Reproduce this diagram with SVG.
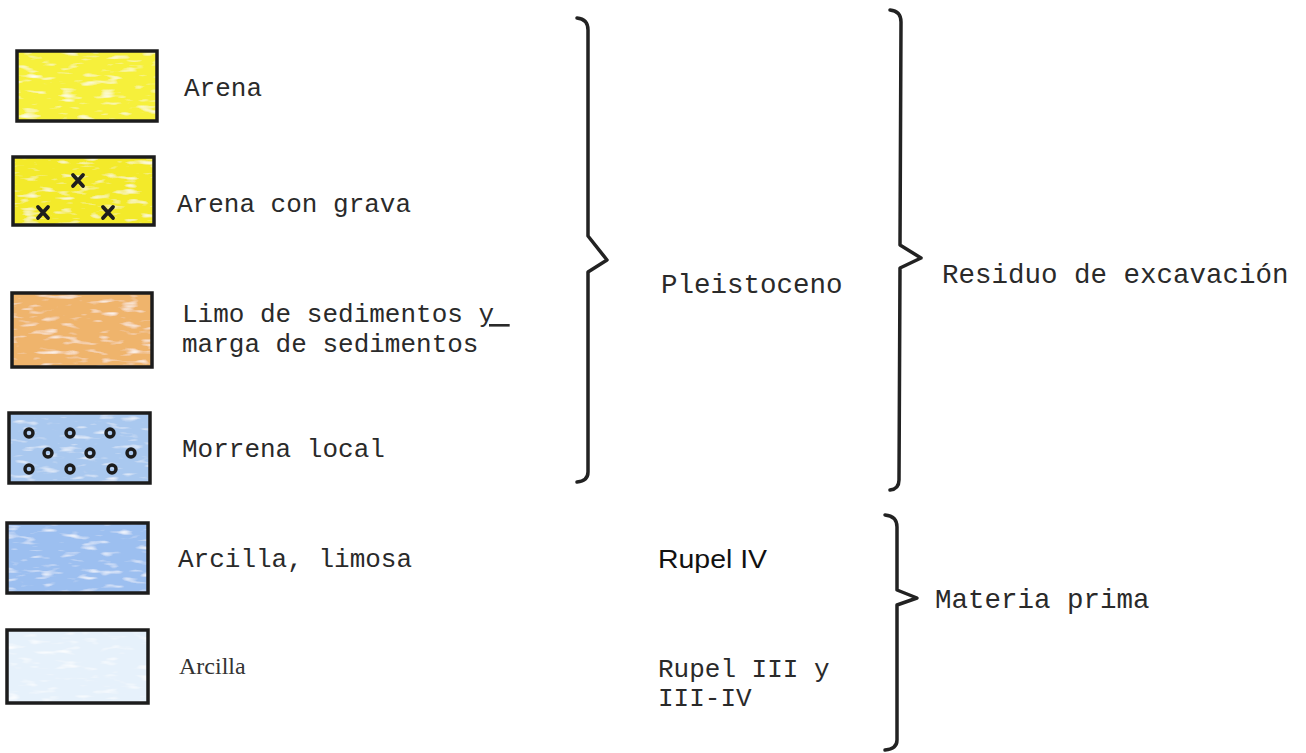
<svg xmlns="http://www.w3.org/2000/svg" width="1306" height="753" viewBox="0 0 1306 753">
<style>
.box{fill:none;stroke:#1c1c1c;stroke-width:3.5}
.mono{font-family:"Liberation Mono","Courier New",monospace;font-size:26px;fill:#2a2a2a}
.big{font-size:27.5px}
.serif{font-family:"Liberation Serif","Times New Roman",serif;font-size:24px;fill:#333}
.sans{font-family:"Liberation Sans",Arial,sans-serif;font-size:25px;fill:#111}
.brace{fill:none;stroke:#222;stroke-width:3.5;stroke-linecap:round;stroke-linejoin:round}
.x{stroke:#1e1e1e;stroke-width:3.8;stroke-linecap:round}
.pebble{fill:none;stroke:#1c1c1c;stroke-width:3.4}
</style>
<defs>
<filter id="pencil" x="0" y="0" width="100%" height="100%">
<feTurbulence type="fractalNoise" baseFrequency="0.05 0.2" numOctaves="2" seed="4" result="n"/>
<feColorMatrix in="n" type="matrix" values="0 0 0 0 1 0 0 0 0 1 0 0 0 0 1 2.6 0 0 0 -1.45" result="w"/>
<feComposite in="w" in2="SourceGraphic" operator="in" result="wc"/>
<feMerge><feMergeNode in="SourceGraphic"/><feMergeNode in="wc"/></feMerge>
</filter>
</defs>
<rect width="1306" height="753" fill="#ffffff"/>

<g id="arena">
<rect x="17" y="51" width="140" height="70" fill="#f6f03a" filter="url(#pencil)"/>
<rect class="box" x="17" y="51" width="140" height="70"/>
<text class="mono" x="184" y="96">Arena</text>
</g>

<g id="arena-grava">
<rect x="13" y="157" width="141" height="68" fill="#f3ea2a" filter="url(#pencil)"/>
<rect class="box" x="13" y="157" width="141" height="68"/>
<path class="x" d="M73 175 L83 186 M83 175 L73 186 M38 207 L48 218 M48 207 L38 218 M103 207 L113 218 M113 207 L103 218"/>
<text class="mono" x="177" y="212">Arena con grava</text>
</g>

<g id="limo">
<rect x="12" y="293" width="140" height="74" fill="#efb46c" filter="url(#pencil)"/>
<rect class="box" x="12" y="293" width="140" height="74"/>
<text class="mono" x="182" y="322" xml:space="preserve">Limo de sedimentos <tspan text-decoration="underline">y </tspan></text>
<text class="mono" x="182" y="352">marga de sedimentos</text>
</g>

<g id="morrena">
<rect x="9" y="413" width="141" height="70" fill="#a9c8ef" filter="url(#pencil)"/>
<rect class="box" x="9" y="413" width="141" height="70"/>
<g class="pebble">
<circle cx="29" cy="433" r="4"/><circle cx="70" cy="433" r="4"/><circle cx="110" cy="433" r="4"/>
<circle cx="48" cy="453" r="4"/><circle cx="90" cy="453" r="4"/><circle cx="131" cy="453" r="4"/>
<circle cx="29" cy="469" r="4"/><circle cx="70" cy="469" r="4"/><circle cx="112" cy="469" r="4"/>
</g>
<text class="mono" x="182" y="457">Morrena local</text>
</g>

<g id="arcilla-limosa">
<rect x="7" y="523" width="141" height="70" fill="#9cbff0" filter="url(#pencil)"/>
<rect class="box" x="7" y="523" width="141" height="70"/>
<text class="mono" x="178" y="567">Arcilla, limosa</text>
</g>

<g id="arcilla">
<rect x="7" y="630" width="141" height="73" fill="#e6f1fb" filter="url(#pencil)"/>
<rect class="box" x="7" y="630" width="141" height="73"/>
<text class="serif" x="179" y="674">Arcilla</text>
</g>

<g id="pleistoceno">
<text class="mono big" x="661" y="293">Pleistoceno</text>
</g>

<g id="residuo">
<text class="mono big" x="942" y="283">Residuo de excavación</text>
</g>

<g id="rupel-iv">
<text class="sans" x="658" y="568" textLength="109" lengthAdjust="spacingAndGlyphs">Rupel IV</text>
</g>

<g id="rupel-iii">
<text class="mono" x="658" y="677" font-size="25">Rupel III y</text>
<text class="mono" x="658" y="706" font-size="25">III-IV</text>
</g>

<g id="materia-prima">
<text class="mono big" x="935" y="608">Materia prima</text>
</g>

<g id="connectors">
<path class="brace" d="M577 18 Q588 19 588 30 L588 236 L607 260 L588 272 L588 472 Q588 481 577 482"/>
<path class="brace" d="M890 10 Q901 11 901 22 L900 245 L921 258 L900 268 L899 480 Q899 489 890 490"/>
<path class="brace" d="M885 515 Q897 516 897 527 L897 590 L917 598 L897 605 L897 740 Q897 749 885 750"/>
</g>
</svg>
